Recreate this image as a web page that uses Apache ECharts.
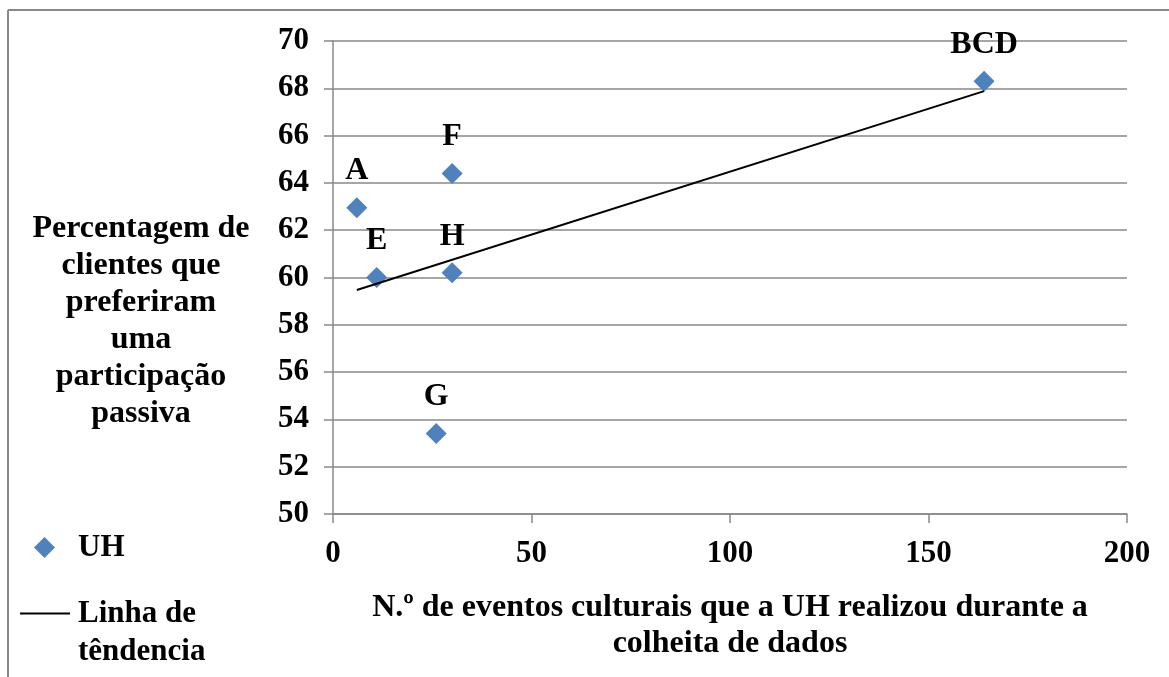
<!DOCTYPE html>
<html>
<head>
<meta charset="utf-8">
<title>Eventos culturais vs participação passiva</title>
<script src="https://cdn.jsdelivr.net/npm/echarts@6/dist/echarts.min.js"></script>
<style>
  html, body { margin: 0; padding: 0; background: #ffffff; }
  #chart { width: 1169px; height: 677px; }
</style>
</head>
<body>
<div id="chart"></div>
<script>
// Unidades hoteleiras (UH): eventos culturais realizados vs % de clientes com participação passiva
const pointNames = ['A', 'E', 'F', 'H', 'G', 'BCD'];
const eventCounts = [6, 11, 30, 30, 26, 164];
const passivePct = [62.95, 60.0, 64.4, 60.2, 53.4, 68.3];

// Linha de tendência (extremos)
const trendX = [6, 164];
const trendY = [59.47, 67.88];

const xTicks = { min: 0, max: 200, interval: 50 };
const yTicks = { min: 50, max: 70, interval: 2 };

const FONT = "'Liberation Serif', 'Times New Roman', serif";
const GRAY = '#888888';
const BLUE = '#4F81BD';

const chart = echarts.init(document.getElementById('chart'));

const scatterData = pointNames.map((n, i) => ({ name: n, value: [eventCounts[i], passivePct[i]] }));
const trendData = trendX.map((x, i) => [x, trendY[i]]);

const legendText = { fontFamily: FONT, fontWeight: 'bold', fontSize: 31, color: '#000' };

chart.setOption({
  backgroundColor: '#ffffff',
  animation: false,
  textStyle: { fontFamily: FONT, fontWeight: 'bold', color: '#000' },
  grid: { left: 333, right: 42, top: 41, bottom: 163, containLabel: false },
  xAxis: {
    type: 'value',
    min: xTicks.min, max: xTicks.max, interval: xTicks.interval,
    axisLine: { show: true, lineStyle: { color: GRAY, width: 1.5 } },
    axisTick: { show: true, length: 9, lineStyle: { color: GRAY, width: 1.5 } },
    splitLine: { show: false },
    axisLabel: { margin: 24, fontFamily: FONT, fontWeight: 'bold', fontSize: 31, color: '#000' },
    name: 'N.º de eventos culturais que a UH realizou durante a\ncolheita de dados',
    nameLocation: 'middle',
    nameGap: 76,
    nameTextStyle: { fontFamily: FONT, fontWeight: 'bold', fontSize: 32, lineHeight: 36, color: '#000', align: 'center' }
  },
  yAxis: {
    type: 'value',
    min: yTicks.min, max: yTicks.max, interval: yTicks.interval,
    axisLine: { show: true, lineStyle: { color: GRAY, width: 1.5 } },
    axisTick: { show: true, length: 9, lineStyle: { color: GRAY, width: 1.5 } },
    splitLine: { show: true, lineStyle: { color: GRAY, width: 1.5 } },
    axisLabel: { margin: 24, fontFamily: FONT, fontWeight: 'bold', fontSize: 31, color: '#000' }
  },
  legend: [
    {
      orient: 'vertical',
      left: 29,
      top: 527,
      itemWidth: 21,
      itemHeight: 21,
      textStyle: Object.assign({ padding: [0, 0, 0, 18] }, legendText),
      data: [{ name: 'UH', icon: 'diamond' }]
    },
    {
      orient: 'vertical',
      left: 15,
      top: 593,
      itemWidth: 50,
      itemHeight: 2,
      textStyle: Object.assign({ padding: [0, 0, 0, 3] }, legendText),
      formatter: () => 'Linha de',
      data: [{ name: 'Linha de têndencia', icon: 'rect' }]
    }
  ],
  graphic: [
    { type: 'line', shape: { x1: 8, y1: 10, x2: 1169, y2: 10 }, style: { stroke: GRAY, lineWidth: 2 } },
    { type: 'line', shape: { x1: 8, y1: 10, x2: 8, y2: 677 }, style: { stroke: GRAY, lineWidth: 2 } },
    {
      type: 'text', left: 78, top: 636,
      style: { text: 'têndencia', font: "bold 31px " + FONT, fill: '#000' }
    },
    {
      type: 'text', x: 141, y: 210,
      style: {
        text: 'Percentagem de\nclientes que\npreferiram\numa\nparticipação\npassiva',
        font: "bold 32px " + FONT, fill: '#000', align: 'center', verticalAlign: 'top', lineHeight: 37
      }
    }
  ],
  series: [
    {
      name: 'UH',
      type: 'scatter',
      symbol: 'diamond',
      symbolSize: 21,
      itemStyle: { color: BLUE, opacity: 1 },
      label: {
        show: true,
        position: 'top',
        distance: 10,
        formatter: (p) => p.name,
        fontFamily: FONT, fontWeight: 'bold', fontSize: 32, color: '#000', opacity: 1, textBorderWidth: 0
      },
      data: scatterData,
      z: 3
    },
    {
      name: 'Linha de têndencia',
      type: 'line',
      symbol: 'none',
      showSymbol: false,
      lineStyle: { color: '#000', width: 2 },
      itemStyle: { color: '#000' },
      data: trendData,
      z: 4
    }
  ]
});
</script>
</body>
</html>
